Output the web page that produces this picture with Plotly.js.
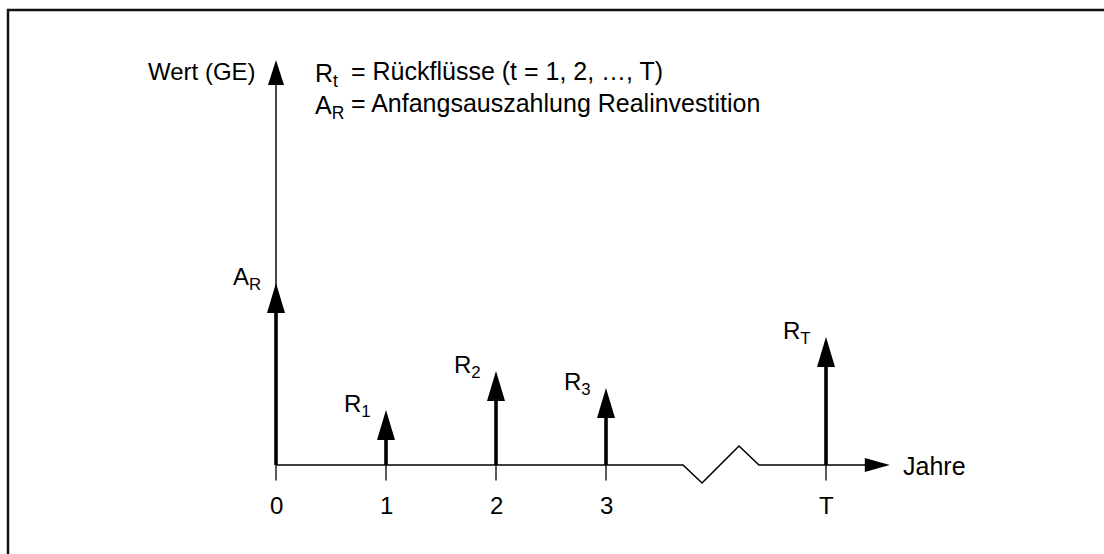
<!DOCTYPE html>
<html>
<head>
<meta charset="utf-8">
<script src="https://cdn.plot.ly/plotly-3.0.1.min.js"></script>
<style>html,body{margin:0;padding:0;background:#fff;}#chart{width:1104px;height:554px;}</style>
</head>
<body>
<div id="chart"></div>
<script>
// ---- data ----
const periodLabels = ['0', '1', '2', '3', 'T'];
const periodPos = [0, 1, 2, 3, 5];
const flowLabels = ['A<sub>R</sub>', 'R<sub>1</sub>', 'R<sub>2</sub>', 'R<sub>3</sub>', 'R<sub>T</sub>'];
const flowValues = [9.1, 2.75, 4.7, 3.85, 6.4];
const yAxisTop = 20.25;
const xAxisEnd = 5.58;
const breakX = [3.70, 3.873, 4.209, 4.391];
const breakY = [0, -0.9, 0.95, 0];
const legendSymbols = ['R<sub>t</sub>', 'A<sub>R</sub>'];
const legendTexts = ['= Rückflüsse (t = 1, 2, …, T)', '= Anfangsauszahlung Realinvestition'];
const yAxisTitle = 'Wert (GE)';
const xAxisTitle = 'Jahre';

// ---- layout constants ----
const W = 1104, H = 554;
const X0PX = 276, XUNIT = 110, Y0PX = 465, YUNIT = 20;
const FONT = 'Liberation Sans, Arial, sans-serif';
const FS = 24;
const TXT = '#000';
const px = v => v / W;
const py = v => 1 - v / H;

const traces = [];
const shapes = [];
const annotations = [];

// x axis with break
const axX = [0].concat(breakX).concat([xAxisEnd - 0.1]);
const axY = [0].concat(breakY).concat([0]);
traces.push({x: axX, y: axY, mode: 'lines', line: {color: '#000', width: 1.6}, hoverinfo: 'skip'});
shapes.push({type: 'path', xref: 'x', yref: 'y', xsizemode: 'pixel', ysizemode: 'pixel',
  xanchor: xAxisEnd, yanchor: 0, path: 'M0,0 L-25,7 L-25,-7 Z', fillcolor: '#000', line: {width: 0}});

// y axis
traces.push({x: [0, 0], y: [0, yAxisTop - 1], mode: 'lines', line: {color: '#333', width: 1.8}, hoverinfo: 'skip'});
shapes.push({type: 'path', xref: 'x', yref: 'y', xsizemode: 'pixel', ysizemode: 'pixel',
  xanchor: 0, yanchor: yAxisTop, path: 'M0,0 L-8,-25 L8,-25 Z', fillcolor: '#000', line: {width: 0}});

// ticks
const tx = [], ty = [];
periodPos.forEach(p => { tx.push(p, p, null); ty.push(0, -0.78, null); });
traces.push({x: tx, y: ty, mode: 'lines', line: {color: '#222', width: 1.5}, hoverinfo: 'skip'});
periodPos.forEach((p, i) => {
  annotations.push({x: p, y: -2.0, xref: 'x', yref: 'y', text: periodLabels[i], showarrow: false,
    xanchor: 'center', yanchor: 'middle', font: {family: FONT, size: FS, color: TXT}});
});

// flow arrows
periodPos.forEach((p, i) => {
  const v = flowValues[i];
  traces.push({x: [p, p], y: [0, v - 1.2], mode: 'lines', line: {color: '#000', width: 3.6}, hoverinfo: 'skip'});
  shapes.push({type: 'path', xref: 'x', yref: 'y', xsizemode: 'pixel', ysizemode: 'pixel',
    xanchor: p, yanchor: v, path: 'M0,0 L-9,-30 L9,-30 Z', fillcolor: '#000', line: {width: 0}});
  annotations.push({x: p, y: v, xref: 'x', yref: 'y', text: flowLabels[i], showarrow: false,
    xanchor: 'right', yanchor: 'middle', xshift: -13, yshift: 5,
    font: {family: FONT, size: FS, color: TXT}});
});

// axis titles
annotations.push({x: px(258), y: py(71), xref: 'paper', yref: 'paper', text: yAxisTitle, showarrow: false,
  xanchor: 'right', yanchor: 'middle', font: {family: FONT, size: FS, color: TXT}});
annotations.push({x: px(901), y: py(466), xref: 'paper', yref: 'paper', text: xAxisTitle, showarrow: false,
  xanchor: 'left', yanchor: 'middle', font: {family: FONT, size: FS + 1, color: TXT}});

// legend texts
const legY = [71, 103];
legendSymbols.forEach((s, i) => {
  annotations.push({x: px(313), y: py(legY[i] + 4), xref: 'paper', yref: 'paper', text: s, showarrow: false,
    xanchor: 'left', yanchor: 'middle', font: {family: FONT, size: FS + 1, color: TXT}});
  annotations.push({x: px(349), y: py(legY[i]), xref: 'paper', yref: 'paper', text: legendTexts[i], showarrow: false,
    xanchor: 'left', yanchor: 'middle', font: {family: FONT, size: FS + 1, color: TXT}});
});

// frame
shapes.push({type: 'path', xref: 'paper', yref: 'paper',
  path: 'M' + px(8) + ',' + py(560) + ' L' + px(8) + ',' + py(10) + ' L' + px(1110) + ',' + py(10),
  line: {color: '#111', width: 2.5}});

const layout = {
  width: W, height: H, autosize: false,
  margin: {l: 0, r: 0, t: 0, b: 0, pad: 0},
  paper_bgcolor: '#fff', plot_bgcolor: '#fff',
  showlegend: false,
  xaxis: {range: [-X0PX / XUNIT, (W - X0PX) / XUNIT], visible: false, showgrid: false, zeroline: false, fixedrange: true},
  yaxis: {range: [(Y0PX - H) / YUNIT, Y0PX / YUNIT], visible: false, showgrid: false, zeroline: false, fixedrange: true},
  shapes: shapes,
  annotations: annotations,
  font: {family: FONT, size: FS, color: TXT}
};

Plotly.newPlot('chart', traces, layout, {staticPlot: true, displayModeBar: false});
</script>
</body>
</html>
